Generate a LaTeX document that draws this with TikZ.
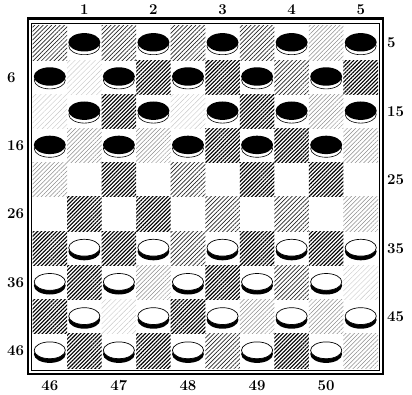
\documentclass[tikz,border=0pt]{standalone}
\usepackage{tikz}
\usetikzlibrary{patterns.meta}
\newcommand{\sqX}{34.55}
\newcommand{\sqY}{34.2}

\begin{document}
\begin{tikzpicture}[
                x=1pt, y=1pt,
                sqd/.style={pattern={Lines[angle=45, distance=2.7pt, line width=1.1pt]}, pattern color=black},
                sqm/.style={pattern={Lines[angle=45, distance=3pt, line width=0.7pt]}, pattern color=black!85},
                sql/.style={pattern={Lines[angle=45, distance=3pt, line width=0.5pt]}, pattern color=black!45},
                sqw/.style={pattern={Lines[angle=45, distance=3.6pt, line width=0.4pt]}, pattern color=black!22},
                num/.style={font=\fontsize{15}{15}\selectfont\bfseries, inner sep=0pt},
                blackman/.pic={\draw[fill=white, line width=0.6pt] (0,-3) ellipse (15.5 and 8.6);
                               \fill (0,0.8) ellipse (16 and 9.2);},
                whiteman/.pic={\fill (0,-3.2) ellipse (15.9 and 8.8);
                               \draw[fill=white, line width=0.7pt] (0,0.6) ellipse (15.6 and 8.4);}
            ]

                \useasboundingbox (0,0) rectangle (412,-395);

                % light squares, row by row
                \foreach \r/\tones in {1/{m,m,m,m,l}, 2/{w,d,d,m,d}, 3/{w,d,w,d,l}, 4/{l,l,d,d,l},
                                       5/{l,d,m,d,d}, 6/{d,d,m,m,l}, 7/{d,d,m,d,d}, 8/{d,l,d,m,w},
                                       9/{d,w,d,l,l}, 10/{d,d,m,d,l}} {
                    \foreach \t [count=\k] in \tones {
                        \pgfmathtruncatemacro{\c}{2*\k-mod(\r,2)}
                        \path[sq\t] (32.5+\c*\sqX-\sqX,-26-\r*\sqY+\sqY) rectangle ++(\sqX,-\sqY);
                    }
                }

                % frame
                \draw[line width=2.6pt] (28,-18.5) rectangle (383,-374);
                \draw[line width=0.6pt] (31,-23.5) rectangle (379.5,-370.5);

                % men
                \foreach \r in {1,...,10} {
                    \foreach \k in {1,...,5} {
                        \pgfmathtruncatemacro{\c}{2*\k-1+mod(\r,2)}
                        \ifnum\r<5
                            \pic at (32.5+\c*\sqX-0.5*\sqX,-26-\r*\sqY+0.5*\sqY) {blackman};
                        \fi
                        \ifnum\r>6
                            \pic at (32.5+\c*\sqX-0.5*\sqX,-26-\r*\sqY+0.5*\sqY) {whiteman};
                        \fi
                    }
                }

                % square numbers
                \foreach \k in {1,...,5} {
                    \node[num] (top\k) at (32.5+2*\k*\sqX-0.5*\sqX,-9.5) {\k};
                    \node[num] (bottom\k) at (32.5+2*\k*\sqX-1.5*\sqX,-386) {\pgfmathparse{int(45+\k)}\pgfmathresult};
                    \node[num, anchor=west] (right\k) at (387,-26-2*\k*\sqY+1.5*\sqY) {\pgfmathparse{int(10*\k-5)}\pgfmathresult};
                    \node[num, anchor=west] (left\k) at (7,-26-2*\k*\sqY+0.5*\sqY) {\pgfmathparse{int(10*\k-4)}\pgfmathresult};
                }

            \end{tikzpicture}
\end{document}
